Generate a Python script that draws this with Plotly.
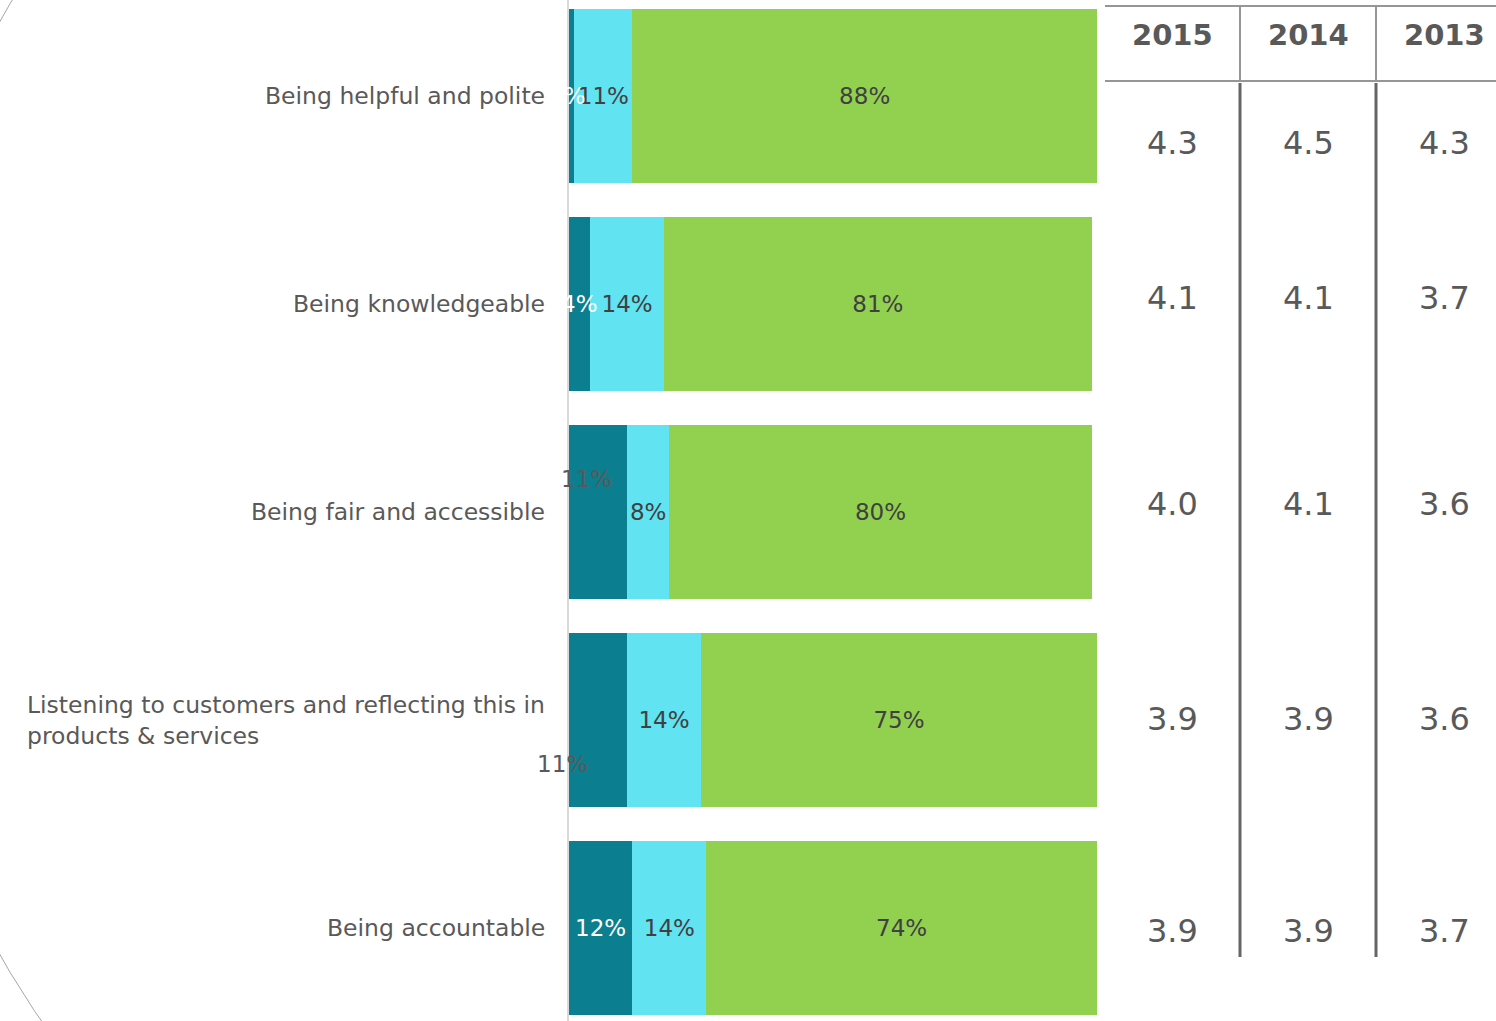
import plotly.graph_objects as go

# data
attributes = ['Being helpful and polite', 'Being knowledgeable', 'Being fair and accessible',
              'Listening to customers and reflecting this in<br>products & services', 'Being accountable']
low = [1, 4, 11, 11, 12]
mid = [11, 14, 8, 14, 14]
high = [88, 81, 80, 75, 74]
years = ['2015', '2014', '2013']
score_2015 = [4.3, 4.1, 4.0, 3.9, 3.9]
score_2014 = [4.5, 4.1, 4.1, 3.9, 3.9]
score_2013 = [4.3, 3.7, 3.6, 3.6, 3.7]

W, H = 1496, 1021
FONT = 'DejaVu Sans'
TXT = '#595959'

def px(x):
    return x / W

def py(y):
    return 1 - y / H

fig = go.Figure()
ypos = list(range(len(attributes)))

fig.add_trace(go.Bar(y=ypos, x=low, orientation='h', marker=dict(color='#0B7F8F', line=dict(width=0)),
                     hoverinfo='skip'))
fig.add_trace(go.Bar(y=ypos, x=mid, orientation='h', marker=dict(color='#61E3F2', line=dict(width=0)),
                     text=[f'{v}%' for v in mid], textposition='inside', insidetextanchor='middle', textangle=0,
                     textfont=dict(family=FONT, size=23, color='#404040'), hoverinfo='skip'))
fig.add_trace(go.Bar(y=ypos, x=high, orientation='h', marker=dict(color='#92D050', line=dict(width=0)),
                     text=[f'{v}%' for v in high], textposition='inside', insidetextanchor='middle', textangle=0,
                     textfont=dict(family=FONT, size=23, color='#404040'), hoverinfo='skip'))

ann = []
# labels of the dark segment (some offset like in the source)
low_col = ['white', 'white', TXT, TXT, 'white']
low_dx = [-4, 0, -12, -36, 0]
low_dy = [0, 0, 33, -44, 0]
for i, v in enumerate(low):
    ann.append(dict(x=v / 2, y=i, xref='x', yref='y', text=f'{v}%', showarrow=False,
                    font=dict(family=FONT, size=23, color=low_col[i]), xshift=low_dx[i], yshift=low_dy[i]))

# category labels
for i, a in enumerate(attributes):
    ann.append(dict(x=0, y=i, xref='x', yref='y', text=a, showarrow=False, xanchor='right', align='left',
                    xshift=-22, font=dict(family=FONT, size=23.5, color=TXT)))

# table on the right
col_x = [1172, 1308, 1444]
for yr, cx in zip(years, col_x):
    ann.append(dict(x=px(cx), y=py(35), xref='paper', yref='paper', text=f'<b>{yr}</b>', showarrow=False,
                    xanchor='center', yanchor='middle', font=dict(family=FONT, size=29, color=TXT)))
row_dy = [-47, 6, 8, 1, -3]
for scores, cx in zip([score_2015, score_2014, score_2013], col_x):
    for i, s in enumerate(scores):
        ann.append(dict(x=px(cx), y=i, xref='paper', yref='y', text=f'{s:.1f}', showarrow=False,
                        xanchor='center', yanchor='middle', yshift=row_dy[i],
                        font=dict(family=FONT, size=32, color=TXT)))

shapes = [
    # decorative arc
    dict(type='circle', xref='paper', yref='paper', x0=px(818 - 942), x1=px(818 + 942),
         y0=py(488 + 942), y1=py(488 - 942), line=dict(color='#a6a6a6', width=1), layer='below'),
    dict(type='line', xref='paper', yref='paper', x0=px(1105), x1=1, y0=py(6), y1=py(6),
         line=dict(color='#969696', width=2)),
    dict(type='line', xref='paper', yref='paper', x0=px(1105), x1=1, y0=py(81), y1=py(81),
         line=dict(color='#969696', width=2)),
]
for vx in [1240, 1376]:
    shapes.append(dict(type='line', xref='paper', yref='paper', x0=px(vx), x1=px(vx), y0=py(6), y1=py(81),
                       line=dict(color='#969696', width=2)))
    shapes.append(dict(type='line', xref='paper', yref='paper', x0=px(vx), x1=px(vx), y0=py(83), y1=py(957),
                       line=dict(color='#666666', width=3)))

fig.update_layout(
    barmode='stack', bargap=0.168, showlegend=False,
    width=W, height=H, margin=dict(l=0, r=0, t=0, b=0),
    paper_bgcolor='white', plot_bgcolor='white',
    font=dict(family=FONT, color=TXT),
    annotations=ann, shapes=shapes,
    uniformtext=dict(minsize=23, mode='show'),
)
fig.update_xaxes(domain=[px(569), px(1097)], range=[0, 100], showgrid=False, zeroline=False,
                 showticklabels=False, showline=False, fixedrange=True)
fig.update_yaxes(range=[(H - 96) / 208, -96 / 208], showgrid=False, zeroline=False, showticklabels=False,
                 showline=True, linecolor='#d9d9d9', linewidth=2, fixedrange=True)

fig.write_html("out.html", config={'displayModeBar': False},
               post_script="document.body.style.margin='0';document.body.style.overflow='hidden';")
